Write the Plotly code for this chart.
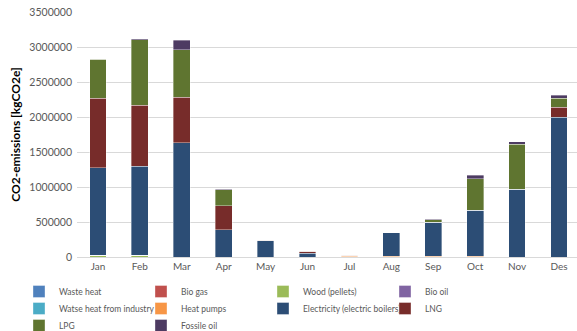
import plotly.graph_objects as go

months = ["Jan", "Feb", "Mar", "Apr", "May", "Jun", "Jul", "Aug", "Sep", "Oct", "Nov", "Des"]

waste_heat = [0, 0, 0, 0, 0, 0, 0, 0, 0, 0, 0, 0]
bio_gas = [0, 0, 0, 0, 0, 0, 0, 0, 0, 0, 0, 0]
wood_pellets = [25000, 25000, 0, 0, 0, 0, 0, 0, 0, 0, 0, 0]
bio_oil = [0, 0, 0, 0, 0, 0, 0, 0, 0, 0, 0, 0]
waste_heat_industry = [0, 0, 0, 0, 0, 0, 0, 0, 0, 0, 0, 0]
heat_pumps = [0, 0, 0, 0, 0, 0, 8000, 8000, 8000, 8000, 0, 0]
electricity = [1250000, 1270000, 1630000, 390000, 232000, 55000, 12000, 335000, 488000, 660000, 970000, 2000000]
lng = [990000, 870000, 650000, 343000, 5000, 25000, 5000, 0, 0, 0, 0, 140000]
lpg = [560000, 940000, 680000, 230000, 0, 0, 0, 7000, 35000, 453000, 640000, 130000]
fossil_oil = [0, 15000, 140000, 8000, 0, 0, 0, 0, 8000, 50000, 38000, 40000]

series = [
    ("Waste heat", waste_heat, "#4F81BD"),
    ("Bio gas", bio_gas, "#C0504D"),
    ("Wood (pellets)", wood_pellets, "#9BBB59"),
    ("Bio oil", bio_oil, "#8064A2"),
    ("Watse heat from industry", waste_heat_industry, "#4BACC6"),
    ("Heat pumps", heat_pumps, "#F79646"),
    ("Electricity (electric boilers)", electricity, "#2C4D75"),
    ("LNG", lng, "#772C2A"),
    ("LPG", lpg, "#5F7530"),
    ("Fossile oil", fossil_oil, "#4D3B62"),
]

# legend grid: 4 columns, 3 rows (item left edge x px, top y px)
col_x = [19, 141, 263, 385]
row_y = [277, 294, 311]

fig = go.Figure()
legends = {}
for i, (name, vals, color) in enumerate(series):
    key = "legend" if i == 0 else f"legend{i + 1}"
    fig.add_trace(go.Bar(
        x=months, y=vals, name=name, legend=key,
        marker=dict(color=color, line=dict(color="rgba(255,255,255,0.6)", width=0.6)),
        width=0.4,
    ))
    r, c = divmod(i, 4)
    legends[key] = dict(
        orientation="h",
        xref="container", yref="container",
        x=col_x[c] / 577, y=1 - row_y[r] / 331, xanchor="left", yanchor="top",
        font=dict(size=8.5, color="#595959", family="Lato, Liberation Sans, sans-serif"),
        itemwidth=30,
        bgcolor="rgba(0,0,0,0)",
    )

fig.update_layout(
    barmode="stack",
    width=577, height=331,
    margin=dict(l=77, r=0, t=12, b=74, autoexpand=False),
    plot_bgcolor="white", paper_bgcolor="white",
    font=dict(family="Lato, Liberation Sans, sans-serif", color="#595959"),
    showlegend=True,
    xaxis=dict(
        type="category",
        range=[-0.5, 11.43],
        showgrid=False,
        showline=True, linecolor="#d9d9d9", linewidth=1,
        ticks="", tickfont=dict(size=10, color="#595959"),
    ),
    yaxis=dict(
        range=[0, 3500000],
        dtick=500000,
        tickformat="d",
        showgrid=True, gridcolor="#d9d9d9", gridwidth=1,
        zeroline=False,
        ticks="", tickfont=dict(size=10.5, color="#595959"),
        ticklabelstandoff=4,
        title=dict(text="<b>CO2-emissions [kgCO2e]</b>", font=dict(size=12, color="#000000"), standoff=6),
    ),
    **legends,
)

fig.write_html("out.html")
